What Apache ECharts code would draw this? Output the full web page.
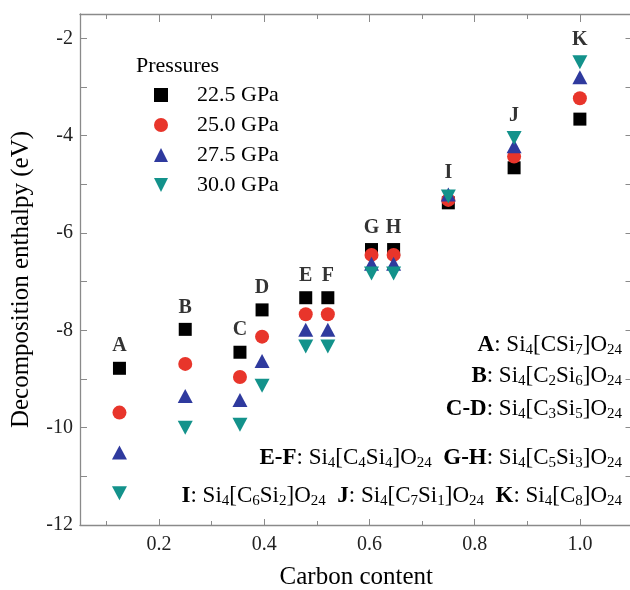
<!DOCTYPE html>
<html>
<head>
<meta charset="utf-8">
<script src="https://cdn.jsdelivr.net/npm/echarts@6/dist/echarts.min.js"></script>
<style>
    html, body { margin: 0; padding: 0; background: #fff; }
    #chart { width: 630px; height: 590px; }
</style>
</head>
<body>
<div id="chart"></div>
<script>
    // structure labels and their carbon content
    var letters = ['A', 'B', 'C', 'D', 'E', 'F', 'G', 'H', 'I', 'J', 'K'];
    var carbon = [0.125, 0.25, 0.354, 0.396, 0.479, 0.521, 0.604, 0.646, 0.75, 0.875, 1.0];

    // decomposition enthalpy (eV) per pressure
    var p225 = [-8.78, -7.98, -8.45, -7.58, -7.33, -7.33, -6.34, -6.34, -5.38, -4.66, -3.66];
    var p250 = [-9.69, -8.69, -8.96, -8.13, -7.67, -7.67, -6.45, -6.45, -5.32, -4.43, -3.23];
    var p275 = [-10.51, -9.35, -9.43, -8.63, -7.99, -7.99, -6.63, -6.63, -5.21, -4.22, -2.80];
    var p300 = [-11.35, -10.0, -9.94, -9.14, -8.33, -8.33, -6.83, -6.83, -5.25, -4.05, -2.49];
    var pressureNames = ['22.5 GPa', '25.0 GPa', '27.5 GPa', '30.0 GPa'];

    var xTicks = [0.2, 0.4, 0.6, 0.8, 1.0];
    var xMinorTicks = [0.1, 0.3, 0.5, 0.7, 0.9];
    var yTicks = [-12, -10, -8, -6, -4, -2];
    var yMinorTicks = [-11, -9, -7, -5, -3];

    // formula rows, "_n" = subscript
    var formulaRows = [
        [['A', 'Si_4[CSi_7]O_24']],
        [['B', 'Si_4[C_2Si_6]O_24']],
        [['C-D', 'Si_4[C_3Si_5]O_24']],
        [['E-F', 'Si_4[C_4Si_4]O_24'], ['G-H', 'Si_4[C_5Si_3]O_24']],
        [['I', 'Si_4[C_6Si_2]O_24'], ['J', 'Si_4[C_7Si_1]O_24'], ['K', 'Si_4[C_8]O_24']]
    ];

    var serif = '"Liberation Serif", "DejaVu Serif", serif';
    var axisColor = '#8a8a8a';

    function richFormula(row) {
        return row.map(function (item) {
            var body = item[1].replace(/_(\d+)/g, '}{s|$1}{n|');
            return '{b|' + item[0] + '}{n|: ' + body + '}';
        }).join('{n|  }');
    }

    var richStyles = {
        n: { fontFamily: serif, fontSize: 23, lineHeight: 26, fill: '#000', color: '#000' },
        b: { fontFamily: serif, fontSize: 23, lineHeight: 26, fontWeight: 'bold', fill: '#000', color: '#000' },
        s: { fontFamily: serif, fontSize: 15, lineHeight: 15, verticalAlign: 'bottom', fill: '#000', color: '#000' }
    };
    var rowCenters = [345, 376, 409, 458, 496];

    var chart = echarts.init(document.getElementById('chart'));

    function pts(arr) {
        return carbon.map(function (x, i) { return [x, arr[i]]; });
    }

    var tops = carbon.map(function (x, i) {
        return [x, Math.max(p225[i], p250[i], p275[i], p300[i])];
    });

    var gridBox = { left: 80, top: 14, width: 552.5, height: 511, outerBoundsMode: 'none', containLabel: false };

    var option = {
        animation: false,
        backgroundColor: '#fff',
        title: {
            text: 'Pressures',
            left: 131, top: 50,
            textStyle: { fontFamily: serif, fontSize: 22, fontWeight: 'normal', color: '#000' }
        },
        legend: {
            data: pressureNames,
            orient: 'vertical',
            left: 149, top: 79,
            itemWidth: 14, itemHeight: 14, itemGap: 8,
            selectedMode: false,
            textStyle: { fontFamily: serif, fontSize: 22, color: '#000', lineHeight: 22, padding: [0, 0, 0, 24] }
        },
        grid: [gridBox, gridBox],
        xAxis: [
            {
                type: 'value', gridIndex: 0, position: 'bottom', min: 0.05, max: 1.1,
                name: 'Carbon content', nameLocation: 'middle', nameGap: 40,
                nameTextStyle: { fontFamily: serif, fontSize: 25, color: '#000' },
                axisLine: { show: true, lineStyle: { color: axisColor, width: 1.3 } },
                axisTick: { inside: true, length: 6, customValues: xTicks, lineStyle: { color: axisColor } },
                axisLabel: {
                    customValues: xTicks, margin: 10,
                    fontFamily: serif, fontSize: 20, color: '#222',
                    formatter: function (v) { return v.toFixed(1); }
                },
                splitLine: { show: false }
            },
            {
                type: 'value', gridIndex: 0, position: 'top', min: 0.05, max: 1.1,
                axisLine: { show: true, lineStyle: { color: axisColor, width: 1.3 } },
                axisTick: { inside: true, length: 8, customValues: xTicks, lineStyle: { color: axisColor } },
                axisLabel: { show: false },
                splitLine: { show: false }
            },
            {
                type: 'value', gridIndex: 1, position: 'bottom', min: 0.05, max: 1.1,
                axisLine: { show: false },
                axisTick: { inside: true, length: 4, customValues: xMinorTicks, lineStyle: { color: axisColor } },
                axisLabel: { show: false },
                splitLine: { show: false }
            },
            {
                type: 'value', gridIndex: 1, position: 'top', min: 0.05, max: 1.1,
                axisLine: { show: false },
                axisTick: { inside: true, length: 5, customValues: xMinorTicks, lineStyle: { color: axisColor } },
                axisLabel: { show: false },
                splitLine: { show: false }
            }
        ],
        yAxis: [
            {
                type: 'value', gridIndex: 0, position: 'left', min: -12, max: -1.5,
                name: 'Decomposition enthalpy (eV)', nameLocation: 'middle', nameGap: 46,
                nameTextStyle: { fontFamily: serif, fontSize: 25, color: '#000', padding: [0, 20, 0, 0] },
                axisLine: { show: true, lineStyle: { color: axisColor, width: 1.3 } },
                axisTick: { inside: true, length: 7, customValues: yTicks.concat(yMinorTicks), lineStyle: { color: axisColor } },
                axisLabel: { customValues: yTicks, margin: 7, fontFamily: serif, fontSize: 20, color: '#222' },
                splitLine: { show: false }
            },
            {
                type: 'value', gridIndex: 0, position: 'right', min: -12, max: -1.5,
                axisLine: { show: true, lineStyle: { color: axisColor, width: 1.3 } },
                axisTick: { inside: true, length: 7, customValues: yTicks.concat(yMinorTicks), lineStyle: { color: axisColor } },
                axisLabel: { show: false },
                splitLine: { show: false }
            },
            {
                type: 'value', gridIndex: 1, min: -12, max: -1.5, show: false
            }
        ],
        graphic: formulaRows.map(function (row, i) {
            return {
                type: 'text',
                x: 622, y: rowCenters[i],
                silent: true,
                style: {
                    text: richFormula(row),
                    rich: richStyles,
                    align: 'right',
                    verticalAlign: 'middle',
                    fill: '#000'
                }
            };
        }),
        series: [
            { name: pressureNames[0], type: 'scatter', symbol: 'rect', symbolSize: 13,
              itemStyle: { color: '#000000', opacity: 1 }, data: pts(p225) },
            { name: pressureNames[1], type: 'scatter', symbol: 'circle', symbolSize: 14,
              itemStyle: { color: '#e8352b', opacity: 1 }, data: pts(p250) },
            { name: pressureNames[2], type: 'scatter', symbol: 'triangle', symbolSize: [15, 14],
              itemStyle: { color: '#2f3a9e', opacity: 1 }, data: pts(p275) },
            { name: pressureNames[3], type: 'scatter', symbol: 'path://M0,0L2,0L1,2Z', symbolSize: [15, 14],
              itemStyle: { color: '#13928b', opacity: 1 }, data: pts(p300) },
            {
                name: 'labels', type: 'scatter', symbolSize: 0, silent: true,
                data: tops,
                label: {
                    show: true, position: 'top', distance: 12,
                    fontFamily: serif, fontSize: 20, fontWeight: 'bold', color: '#000',
                    formatter: function (p) { return letters[p.dataIndex]; }
                }
            }
        ]
    };

    chart.setOption(option);
</script>
</body>
</html>
